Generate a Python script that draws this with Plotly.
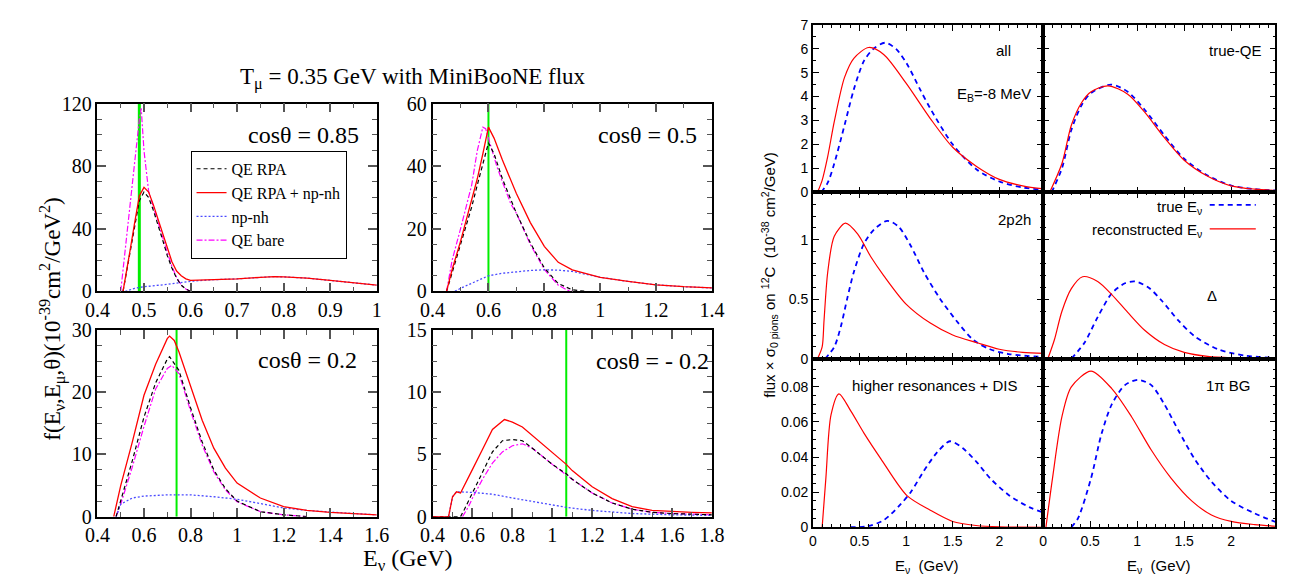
import plotly.graph_objects as go

# ---------------- LEFT FIGURE DATA (T_mu = 0.35 GeV) ----------------
# panel A : cos(theta) = 0.85
A_rpa_x = [0.455, 0.46, 0.47, 0.48, 0.49, 0.50, 0.51, 0.52, 0.53, 0.54, 0.55, 0.56, 0.57, 0.58, 0.59, 0.60]
A_rpa_y = [0, 8, 25, 42, 58, 63.5, 60, 52, 43, 33, 23, 15, 8.5, 4, 1.5, 0]
A_tot_x = [0.455, 0.46, 0.47, 0.48, 0.49, 0.50, 0.51, 0.52, 0.53, 0.54, 0.55, 0.56, 0.57, 0.58, 0.59, 0.60,
           0.65, 0.70, 0.75, 0.78, 0.80, 0.85, 0.90, 0.95, 1.00]
A_tot_y = [0, 8, 26, 44, 61, 66.5, 63.5, 55.5, 46.5, 37, 27, 19, 13, 10, 8, 7,
           7.5, 8, 9, 9.5, 9.3, 8.5, 7, 5.5, 4]
A_np_x = [0.46, 0.48, 0.50, 0.55, 0.60, 0.65, 0.70, 0.75, 0.78, 0.80, 0.85, 0.90, 0.95, 1.00]
A_np_y = [0, 2, 3, 4.5, 6.5, 7.5, 8, 9, 9.5, 9.3, 8.5, 7, 5.5, 4]
A_bare_x = [0.45, 0.46, 0.47, 0.48, 0.49, 0.494, 0.50, 0.51, 0.52, 0.53, 0.54, 0.55, 0.56, 0.57, 0.58, 0.59, 0.60]
A_bare_y = [0, 28, 56, 84, 110, 117, 90, 64, 54, 45, 35, 25, 16, 9, 4, 1.5, 0]

# panel B : cos(theta) = 0.5
B_rpa_x = [0.45, 0.47, 0.50, 0.54, 0.56, 0.58, 0.60, 0.62, 0.65, 0.70, 0.75, 0.80, 0.85, 0.90, 0.95]
B_rpa_y = [0, 6, 15, 27, 34, 41, 47.5, 44, 36, 25, 15.5, 7.5, 2.5, 0.5, 0]
B_tot_x = [0.45, 0.47, 0.50, 0.54, 0.56, 0.58, 0.60, 0.62, 0.65, 0.70, 0.75, 0.80, 0.85, 0.90,
           1.0, 1.1, 1.2, 1.3, 1.4]
B_tot_y = [0, 7, 16, 29, 36, 44, 52.5, 49, 42, 31.3, 22, 14.4, 9.3, 6.9, 4.5, 3.2, 2.1, 1.5, 1.1]
B_np_x = [0.48, 0.50, 0.55, 0.60, 0.65, 0.70, 0.75, 0.80, 0.85, 0.90, 1.0, 1.1, 1.2, 1.3, 1.4]
B_np_y = [0, 1, 3, 5, 5.8, 6.3, 6.7, 6.9, 6.8, 6.4, 4.5, 3.2, 2.1, 1.5, 1.1]
B_bare_x = [0.45, 0.47, 0.50, 0.54, 0.56, 0.58, 0.59, 0.61, 0.63, 0.65, 0.68, 0.70, 0.75, 0.80, 0.85, 0.88, 0.90]
B_bare_y = [0, 10, 20, 34, 45, 52.5, 52, 46, 40, 35, 28, 25, 15, 7, 2, 0.5, 0]

# panel C : cos(theta) = 0.2
C_rpa_x = [0.48, 0.50, 0.55, 0.60, 0.65, 0.70, 0.71, 0.75, 0.80, 0.85, 0.90, 0.95, 1.0, 1.1, 1.2, 1.3]
C_rpa_y = [0, 2.5, 9, 16, 21.5, 25.3, 25.7, 23.5, 17.5, 12, 7.5, 4.5, 2.5, 0.8, 0.3, 0]
C_tot_x = [0.47, 0.50, 0.55, 0.60, 0.65, 0.68, 0.70, 0.71, 0.73, 0.75, 0.80, 0.85, 0.90, 0.95, 1.0,
           1.1, 1.2, 1.3, 1.4, 1.5, 1.6]
C_tot_y = [0, 5, 12, 19.5, 24.5, 27, 28.6, 29, 28.3, 26.5, 21, 15.5, 11, 7.8, 5.4, 3, 1.6, 1.0, 0.7, 0.5, 0.3]
C_np_x = [0.48, 0.50, 0.55, 0.60, 0.70, 0.80, 0.90, 1.0, 1.1, 1.2, 1.3, 1.4, 1.5, 1.6]
C_np_y = [0, 2, 3, 3.3, 3.5, 3.5, 3.2, 2.8, 2.1, 1.4, 1.0, 0.7, 0.5, 0.3]
C_bare_x = [0.48, 0.50, 0.55, 0.60, 0.65, 0.70, 0.72, 0.75, 0.80, 0.85, 0.90, 0.95, 1.0, 1.1, 1.2, 1.3]
C_bare_y = [0, 2, 8, 14.5, 20.5, 23.8, 24.3, 23, 17, 11.5, 7.2, 4.3, 2.4, 0.8, 0.3, 0]

# panel D : cos(theta) = -0.2
D_rpa_x = [0.40, 0.54, 0.56, 0.60, 0.65, 0.70, 0.75, 0.80, 0.85, 0.90, 1.0, 1.07, 1.1, 1.2, 1.3, 1.4, 1.5, 1.6, 1.8]
D_rpa_y = [0, 0, 0.6, 1.9, 3.6, 5.2, 6.1, 6.2, 6.1, 5.5, 4.2, 3.45, 3.0, 1.9, 1.1, 0.6, 0.35, 0.25, 0.15]
D_tot_x = [0.40, 0.48, 0.50, 0.52, 0.54, 0.56, 0.60, 0.65, 0.70, 0.76, 0.80, 0.85, 0.90, 1.0, 1.07, 1.1,
           1.2, 1.3, 1.4, 1.5, 1.6, 1.7, 1.8]
D_tot_y = [0, 0, 1.6, 2.0, 1.9, 2.5, 3.8, 5.4, 7.0, 7.8, 7.6, 7.2, 6.5, 5.1, 4.2, 3.7,
           2.4, 1.45, 0.8, 0.5, 0.4, 0.35, 0.3]
D_np_x = [0.40, 0.48, 0.50, 0.52, 0.60, 0.70, 0.80, 0.90, 1.0, 1.07, 1.2, 1.4, 1.6, 1.8]
D_np_y = [0, 0, 1.6, 2.0, 1.95, 1.8, 1.5, 1.2, 0.95, 0.75, 0.5, 0.25, 0.15, 0.1]
D_bare_x = [0.55, 0.58, 0.60, 0.65, 0.70, 0.75, 0.80, 0.85, 0.90, 1.0, 1.1, 1.2, 1.3, 1.4, 1.5, 1.6, 1.8]
D_bare_y = [0, 0.8, 1.5, 3.0, 4.3, 5.2, 5.7, 5.85, 5.5, 4.2, 3.0, 1.9, 1.1, 0.6, 0.35, 0.25, 0.15]

# green vertical markers (E_nu) for each panel
green_E = [0.49, 0.60, 0.74, 1.07]
cos_labels = ["cos\u03b8 = 0.85", "cos\u03b8 = 0.5", "cos\u03b8 = 0.2", "cos\u03b8 = - 0.2"]
left_xranges = [[0.4, 1.0], [0.4, 1.4], [0.4, 1.6], [0.4, 1.8]]
left_yranges = [[0, 120], [0, 60], [0, 30], [0, 15]]
left_series_names = ["QE RPA", "QE RPA + np-nh", "np-nh", "QE bare"]

# ---------------- RIGHT FIGURE DATA (flux x sigma on 12C) ----------------
E_rec_x = [0.05, 0.1, 0.16, 0.23, 0.34, 0.44, 0.60, 0.76, 1.0, 1.26, 1.5, 1.76, 2.0, 2.25, 2.5]
E_rec_y = [0, 0.5, 1.5, 2.95, 4.8, 5.6, 6.05, 5.76, 4.56, 3.08, 1.88, 1.07, 0.54, 0.27, 0.13]
E_true_x = [0.09, 0.16, 0.23, 0.34, 0.44, 0.55, 0.66, 0.78, 0.9, 1.01, 1.15, 1.26, 1.5, 1.76, 2.0, 2.25, 2.5]
E_true_y = [0, 0.4, 1.2, 2.8, 4.3, 5.5, 6.03, 6.25, 5.96, 5.36, 4.3, 3.5, 2.0, 0.94, 0.45, 0.2, 0.1]

F_rec_x = [0.07, 0.2, 0.3, 0.41, 0.51, 0.69, 0.9, 1.08, 1.29, 1.5, 1.75, 2.0, 2.25, 2.5]
F_rec_y = [0, 1.2, 2.8, 3.75, 4.2, 4.45, 4.1, 3.35, 2.28, 1.34, 0.67, 0.27, 0.13, 0.07]
F_true_x = [0.09, 0.2, 0.3, 0.41, 0.51, 0.72, 0.9, 1.08, 1.29, 1.5, 1.75, 2.0, 2.25, 2.5]
F_true_y = [0, 1.0, 2.6, 3.65, 4.15, 4.5, 4.2, 3.45, 2.38, 1.4, 0.7, 0.28, 0.13, 0.07]

G_rec_x = [0.05, 0.1, 0.12, 0.16, 0.23, 0.35, 0.48, 0.62, 0.76, 1.0, 1.26, 1.5, 1.76, 2.0, 2.25, 2.5]
G_rec_y = [0, 0.1, 0.32, 0.73, 1.03, 1.14, 1.05, 0.86, 0.70, 0.46, 0.30, 0.2, 0.135, 0.08, 0.054, 0.046]
G_true_x = [0.13, 0.23, 0.3, 0.37, 0.44, 0.55, 0.66, 0.8, 0.92, 1.05, 1.19, 1.36, 1.54, 1.72, 1.9, 2.1, 2.5]
G_true_y = [0, 0.1, 0.27, 0.51, 0.73, 0.97, 1.09, 1.16, 1.11, 0.95, 0.73, 0.51, 0.32, 0.16, 0.08, 0.04, 0.013]

H_rec_x = [0.05, 0.12, 0.2, 0.3, 0.42, 0.58, 0.73, 0.9, 1.08, 1.29, 1.5, 1.75, 2.0, 2.5]
H_rec_y = [0, 0.16, 0.4, 0.59, 0.69, 0.65, 0.54, 0.39, 0.24, 0.12, 0.054, 0.02, 0.008, 0.003]
H_true_x = [0.3, 0.44, 0.58, 0.73, 0.87, 0.98, 1.12, 1.26, 1.44, 1.61, 1.86, 2.15, 2.5]
H_true_y = [0, 0.135, 0.35, 0.55, 0.635, 0.65, 0.6, 0.49, 0.32, 0.19, 0.08, 0.027, 0.005]

I_rec_x = [0.1, 0.14, 0.195, 0.28, 0.41, 0.55, 0.73, 1.01, 1.26, 1.5, 1.75, 2.0, 2.5]
I_rec_y = [0, 0.028, 0.064, 0.076, 0.066, 0.0535, 0.039, 0.018, 0.0097, 0.0033, 0.001, 0.0002, 0]
I_true_x = [0.4, 0.58, 0.76, 0.94, 1.05, 1.19, 1.33, 1.47, 1.61, 1.76, 1.9, 2.11, 2.32, 2.5]
I_true_y = [0, 0.0005, 0.004, 0.013, 0.02, 0.032, 0.0425, 0.049, 0.045, 0.037, 0.028, 0.018, 0.0115, 0.0079]

J_rec_x = [0.03, 0.1, 0.2, 0.3, 0.51, 0.73, 0.94, 1.15, 1.36, 1.58, 1.79, 2.0, 2.25, 2.5]
J_rec_y = [0, 0.028, 0.063, 0.08, 0.089, 0.079, 0.063, 0.044, 0.028, 0.015, 0.007, 0.0033, 0.0015, 0.0005]
J_true_x = [0.3, 0.37, 0.51, 0.62, 0.73, 0.87, 1.01, 1.15, 1.29, 1.44, 1.61, 1.79, 2.0, 2.25, 2.5]
J_true_y = [0, 0.005, 0.028, 0.053, 0.07, 0.081, 0.084, 0.081, 0.07, 0.055, 0.039, 0.026, 0.015, 0.0079, 0.0024]

right_labels = ["all", "true-QE", "2p2h", "\u0394", "higher resonances + DIS", "1\u03c0 BG"]
right_yranges = [[0, 7], [0, 7], [0, 1.4], [0, 1.4], [0, 0.096], [0, 0.096]]
right_xrange = [0, 2.47]

# ---------------- FIGURE ----------------
W, H = 1299, 588
SERIF = "Liberation Serif, DejaVu Serif, serif"
SANS = "Liberation Sans, Arial, sans-serif"


def fx(p):
    return p / W


def fy(p):
    return 1 - p / H


fig = go.Figure()

# panel pixel boxes (left, right, top, bottom)
left_boxes = [(78, 363, 88, 283), (420, 705, 88, 283), (78, 363, 323, 517), (420, 705, 323, 517)]
right_boxes = [(808, 1043, 6, 180), (1043, 1280, 6, 180),
               (808, 1043, 180, 353), (1043, 1280, 180, 353),
               (808, 1043, 353, 528), (1043, 1280, 353, 528)]

left_dt = [(0.1, 0.05, 40, 10), (0.2, 0.1, 20, 5), (0.2, 0.1, 10, 2.5), (0.2, 0.1, 5, 1.25)]
right_ydt = [(1, 0.5), (1, 0.5), (0.5, 0.1), (0.5, 0.1), (0.02, 0.005), (0.02, 0.005)]

layout_axes = {}
for i, (l, r, t, b) in enumerate(left_boxes):
    n = i + 1
    xs = "" if n == 1 else str(n)
    xd, xm, yd, ym = left_dt[i]
    layout_axes["xaxis" + xs] = dict(
        domain=[fx(l), fx(r)], range=left_xranges[i], anchor="y" + xs, dtick=xd, tick0=0,
        showline=True, linecolor="black", linewidth=1.5, mirror="ticks",
        ticks="inside", ticklen=9, tickwidth=1.5, tickcolor="#555",
        minor=dict(dtick=xm, ticks="inside", ticklen=5, tickwidth=1.2, tickcolor="#555", showgrid=False),
        showgrid=False, zeroline=False,
        tickfont=dict(family=SERIF, size=20, color="black"))
    layout_axes["yaxis" + xs] = dict(
        domain=[fy(b), fy(t)], range=left_yranges[i], anchor="x" + xs, dtick=yd, tick0=0,
        showline=True, linecolor="black", linewidth=1.5, mirror="ticks",
        ticks="inside", ticklen=9, tickwidth=1.5, tickcolor="#555",
        minor=dict(dtick=ym, ticks="inside", ticklen=5, tickwidth=1.2, tickcolor="#555", showgrid=False),
        showgrid=False, zeroline=False,
        tickfont=dict(family=SERIF, size=20, color="black"))

for j, (l, r, t, b) in enumerate(right_boxes):
    n = j + 5
    xs = str(n)
    yd, ym = right_ydt[j]
    layout_axes["xaxis" + xs] = dict(
        domain=[fx(l), fx(r)], range=right_xrange, anchor="y" + xs, dtick=0.5, tick0=0,
        showline=True, linecolor="black", linewidth=1.5, mirror="ticks",
        ticks="inside", ticklen=6, tickwidth=1, tickcolor="black",
        minor=dict(dtick=0.1, ticks="inside", ticklen=3, tickwidth=1, tickcolor="black", showgrid=False),
        showgrid=False, zeroline=False, showticklabels=(j >= 4),
        tickfont=dict(family=SANS, size=14, color="black"))
    layout_axes["yaxis" + xs] = dict(
        domain=[fy(b), fy(t)], range=right_yranges[j], anchor="x" + xs, dtick=yd, tick0=0,
        showline=True, linecolor="black", linewidth=1.5, mirror="ticks",
        ticks="inside", ticklen=6, tickwidth=1, tickcolor="black",
        minor=dict(dtick=ym, ticks="inside", ticklen=3, tickwidth=1, tickcolor="black", showgrid=False),
        showgrid=False, zeroline=False, showticklabels=(j % 2 == 0),
        tickfont=dict(family=SANS, size=14, color="black"))

# left traces
left_data = [
    (A_rpa_x, A_rpa_y, A_tot_x, A_tot_y, A_np_x, A_np_y, A_bare_x, A_bare_y),
    (B_rpa_x, B_rpa_y, B_tot_x, B_tot_y, B_np_x, B_np_y, B_bare_x, B_bare_y),
    (C_rpa_x, C_rpa_y, C_tot_x, C_tot_y, C_np_x, C_np_y, C_bare_x, C_bare_y),
    (D_rpa_x, D_rpa_y, D_tot_x, D_tot_y, D_np_x, D_np_y, D_bare_x, D_bare_y),
]
styles = [dict(color="black", width=1.2, dash="4px,3px"),
          dict(color="#ff0000", width=1.3),
          dict(color="#4a4aff", width=1.3, dash="2px,2px"),
          dict(color="#ff00ff", width=1.2, dash="6px,2px,2px,2px")]
green_w = [3, 2, 2, 2]
for i, d in enumerate(left_data):
    n = i + 1
    xs = "" if n == 1 else str(n)
    fig.add_trace(go.Scatter(x=[green_E[i], green_E[i]], y=left_yranges[i], mode="lines",
                             line=dict(color="#00ee00", width=green_w[i]), showlegend=False,
                             xaxis="x" + xs, yaxis="y" + xs, hoverinfo="skip"))
    order = [3, 2, 0, 1]
    for k in order:
        fig.add_trace(go.Scatter(x=d[2 * k], y=d[2 * k + 1], mode="lines", name=left_series_names[k],
                                 line=styles[k], showlegend=(i == 0), legendrank=k + 1,
                                 xaxis="x" + xs, yaxis="y" + xs))

# right traces
right_data = [(E_true_x, E_true_y, E_rec_x, E_rec_y), (F_true_x, F_true_y, F_rec_x, F_rec_y),
              (G_true_x, G_true_y, G_rec_x, G_rec_y), (H_true_x, H_true_y, H_rec_x, H_rec_y),
              (I_true_x, I_true_y, I_rec_x, I_rec_y), (J_true_x, J_true_y, J_rec_x, J_rec_y)]
for j, d in enumerate(right_data):
    xs = str(j + 5)
    fig.add_trace(go.Scatter(x=d[0], y=d[1], mode="lines", line=dict(color="#0000ff", width=1.8, dash="5px,4px",
                                                                      shape="spline", smoothing=0.8),
                             showlegend=False, xaxis="x" + xs, yaxis="y" + xs))
    fig.add_trace(go.Scatter(x=d[2], y=d[3], mode="lines", line=dict(color="#ff0000", width=1.2,
                                                                      shape="spline", smoothing=0.8),
                             showlegend=False, xaxis="x" + xs, yaxis="y" + xs))

ann = []


def A(text, x, y, size, family, xanchor="center", yanchor="middle", angle=0):
    ann.append(dict(text=text, x=fx(x), y=fy(y), xref="paper", yref="paper", showarrow=False,
                    xanchor=xanchor, yanchor=yanchor, textangle=angle,
                    font=dict(family=family, size=size, color="black")))


A("T<sub>\u03bc</sub> = 0.35 GeV with MiniBooNE flux", 400, 62, 23, SERIF)
cos_pos = [(347, 121), (692, 121), (345, 354), (704, 355)]
for i, (x, y) in enumerate(cos_pos):
    A(cos_labels[i], x, y, 24, SERIF, xanchor="right")
A("E<sub>\u03bd</sub> (GeV)", 395, 562, 24, SERIF)
A("f(E<sub>\u03bd</sub>,E<sub>\u03bc</sub>,\u03b8)(10<sup>-39</sup>cm<sup>2</sup>/GeV<sup>2</sup>)", 32, 312, 23,
  SERIF, angle=-90)

# right figure texts
A(right_labels[0], 1012, 33, 15, SANS, xanchor="right")
A("E<sub>B</sub>=-8 MeV", 1033, 78, 15, SANS, xanchor="right")
A(right_labels[1], 1268, 33, 15, SANS, xanchor="right")
A(right_labels[2], 1033, 208, 15, SANS, xanchor="right")
A(right_labels[3], 1215, 287, 15, SANS)
A(right_labels[4], 1019, 381, 15, SANS, xanchor="right")
A(right_labels[5], 1257, 381, 15, SANS, xanchor="right")
A("E<sub>\u03bd</sub>  (GeV)", 925, 569, 15, SANS)
A("E<sub>\u03bd</sub>  (GeV)", 1161, 569, 15, SANS)
A("true E<sub>\u03bd</sub>", 1207, 196, 15, SANS, xanchor="right")
A("reconstructed E<sub>\u03bd</sub>", 1207, 220, 15, SANS, xanchor="right")
A("flux \u00d7 \u03c3<sub>0 pions</sub> on <sup>12</sup>C  (10<sup>-38</sup> cm<sup>2</sup>/GeV)", 763, 266, 15,
  SANS, angle=-90)

shapes = [
    dict(type="line", xref="paper", yref="paper", x0=fx(1213), x1=fx(1260), y0=fy(193), y1=fy(193),
         line=dict(color="#0000ff", width=1.8, dash="5px,4px")),
    dict(type="line", xref="paper", yref="paper", x0=fx(1213), x1=fx(1260), y0=fy(218), y1=fy(218),
         line=dict(color="#ff0000", width=1.2)),
]

fig.update_layout(
    width=W, height=H, autosize=False, margin=dict(l=0, r=0, t=0, b=0),
    paper_bgcolor="white", plot_bgcolor="white",
    font=dict(family=SERIF, color="black"),
    annotations=ann, shapes=shapes,
    legend=dict(x=fx(173), y=fy(137), xanchor="left", yanchor="top", bgcolor="white",
                bordercolor="black", borderwidth=1, font=dict(family=SERIF, size=16, color="black"),
                tracegroupgap=0, itemwidth=30),
    **layout_axes,
)

fig.write_html("out.html")
